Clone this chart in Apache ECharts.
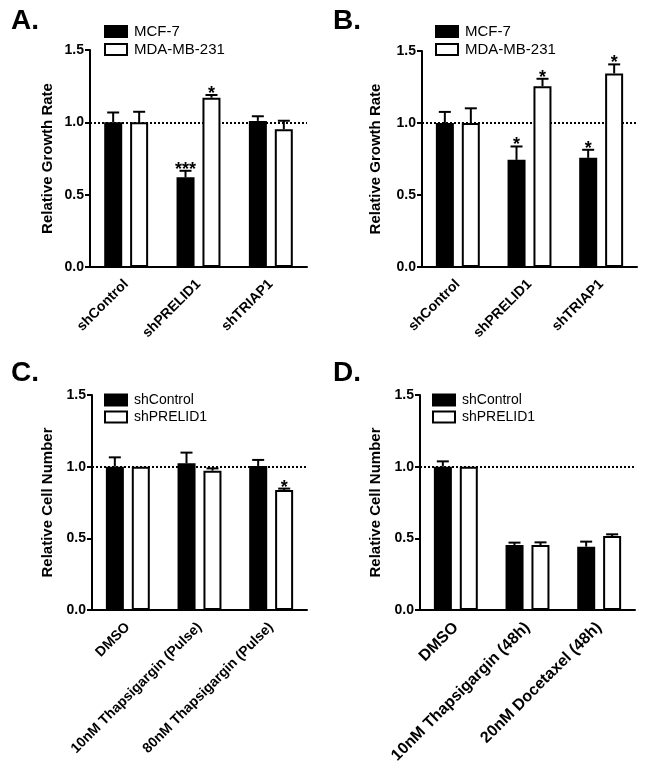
<!DOCTYPE html>
<html><head><meta charset="utf-8">
<script src="https://cdn.jsdelivr.net/npm/echarts@6/dist/echarts.min.js"></script>
<style>html,body{margin:0;padding:0;background:#fff}#c{width:647px;height:772px}</style>
</head><body><div id="c"></div>
<script>
// ---------- data ----------
const catsAB = ['shControl', 'shPRELID1', 'shTRIAP1'];
const catsC = ['DMSO', '10nM Thapsigargin (Pulse)', '80nM Thapsigargin (Pulse)'];
const catsD = ['DMSO', '10nM Thapsigargin (48h)', '20nM Docetaxel (48h)'];

const aMCF = [1.00, 0.62, 1.01];
const aMCFErr = [0.068, 0.045, 0.032];
const aMDA = [1.00, 1.17, 0.953];
const aMDAErr = [0.073, 0.019, 0.058];
const aStarsMCF = ['', '***', ''];
const aStarsMDA = ['', '*', ''];

const bMCF = [1.00, 0.744, 0.758];
const bMCFErr = [0.077, 0.093, 0.056];
const bMDA = [1.00, 1.256, 1.344];
const bMDAErr = [0.102, 0.051, 0.063];
const bStarsMCF = ['', '*', '*'];
const bStarsMDA = ['', '*', '*'];

const cCtrl = [1.00, 1.023, 1.005];
const cCtrlErr = [0.065, 0.075, 0.042];
const cPre = [1.00, 0.972, 0.837];
const cPreErr = [0, 0.016, 0.010];
const cStarsCtrl = ['', '', ''];
const cStarsPre = ['', '', '*'];

const dCtrl = [1.00, 0.453, 0.442];
const dCtrlErr = [0.037, 0.017, 0.035];
const dPre = [1.00, 0.453, 0.516];
const dPreErr = [0, 0.019, 0.012];
const dStarsCtrl = ['', '', ''];
const dStarsPre = ['', '', ''];

const yTickLabels = ['0.0', '0.5', '1.0', '1.5'];
const refLine = 1.0;

// ---------- chart ----------
const FONT = '"Liberation Sans", Arial, sans-serif';
const BAR_W = 18, BAR_OFF = 13;
const chart = echarts.init(document.getElementById('c'), null, {renderer: 'canvas'});

const grids = [
  {left: 90, top: 50, width: 217, height: 217, outerBoundsMode: 'none'},
  {left: 422, top: 51, width: 215, height: 216, outerBoundsMode: 'none'},
  {left: 92, top: 395, width: 215, height: 215, outerBoundsMode: 'none'},
  {left: 420, top: 395, width: 215, height: 215, outerBoundsMode: 'none'}
];

const lineBlack = {color: '#000', width: 2};
function xAx(g, cats, fs) {
  return {
    type: 'category', gridIndex: g, data: cats,
    axisLine: {lineStyle: lineBlack},
    axisTick: {alignWithLabel: true, length: 6, lineStyle: lineBlack},
    axisLabel: {rotate: 45, margin: 15, interval: 0, color: '#000',
      fontFamily: FONT, fontWeight: 'bold', fontSize: fs}
  };
}
function yAx(g, name, gap) {
  return {
    type: 'value', gridIndex: g, min: 0, max: 1.5, interval: 0.5,
    name: name, nameLocation: 'middle', nameGap: gap,
    nameTextStyle: {color: '#000', fontFamily: FONT, fontWeight: 'bold', fontSize: 15},
    axisLine: {show: true, lineStyle: lineBlack},
    axisTick: {show: true, length: 5, lineStyle: lineBlack},
    splitLine: {show: false},
    axisLabel: {margin: 6, color: '#000', fontFamily: FONT, fontWeight: 'bold', fontSize: 14,
      formatter: v => yTickLabels[Math.round(v / 0.5)]}
  };
}
function bar(g, name, vals, fill, withRef) {
  const s = {
    type: 'bar', name: name, xAxisIndex: g, yAxisIndex: g, data: vals,
    barWidth: BAR_W, barGap: '44%', z: 2, silent: true,
    itemStyle: {color: fill, borderColor: '#000', borderWidth: 2}
  };
  if (withRef) {
    s.markLine = {silent: true, z: 1, symbol: 'none', label: {show: false},
      lineStyle: {type: 'dotted', color: '#000', width: 2}, data: [{yAxis: refLine}]};
  }
  return s;
}
function err(g, vals, errs, stars, side) {
  return {
    type: 'custom', xAxisIndex: g, yAxisIndex: g, z: 5, silent: true,
    data: vals.map((v, i) => [i, v, v + errs[i]]),
    encode: {x: 0, y: [1, 2]},
    renderItem(params, api) {
      const i = api.value(0);
      const base = api.coord([i, api.value(1)]);
      const top = api.coord([i, api.value(2)]);
      const x = base[0] + side * BAR_OFF;
      const ch = [];
      if (api.value(2) > api.value(1)) {
        ch.push({type: 'line', shape: {x1: x, y1: base[1], x2: x, y2: top[1]}, style: {stroke: '#000', lineWidth: 2}});
        ch.push({type: 'line', shape: {x1: x - 6, y1: top[1], x2: x + 6, y2: top[1]}, style: {stroke: '#000', lineWidth: 2}});
      }
      const s = stars[params.dataIndex];
      if (s) {
        ch.push({type: 'text', x: x, y: top[1] + 8,
          style: {text: s, font: 'bold 18px ' + FONT, fill: '#000', align: 'center', verticalAlign: 'bottom'}});
      }
      return {type: 'group', children: ch};
    }
  };
}
function leg(left, top, names, fs) {
  return {left: left, top: top, padding: 0, orient: 'vertical', icon: 'rect', itemWidth: 22, itemHeight: 11,
    itemGap: 3, selectedMode: false,
    textStyle: {color: '#000', fontFamily: FONT, fontSize: fs, padding: [0, 0, 0, 2]}, data: names};
}
const titleStyle = {color: '#000', fontFamily: FONT, fontWeight: 'bold', fontSize: 28};

chart.setOption({
  animation: false,
  backgroundColor: '#fff',
  title: [
    {text: 'A.', left: 6, top: 2, textStyle: titleStyle},
    {text: 'B.', left: 328, top: 2, textStyle: titleStyle},
    {text: 'C.', left: 6, top: 354, textStyle: titleStyle},
    {text: 'D.', left: 328, top: 354, textStyle: titleStyle}
  ],
  legend: [
    leg(104, 24, ['MCF-7', 'MDA-MB-231'], 15),
    leg(435, 24, ['MCF-7', 'MDA-MB-231'], 15),
    leg(104, 393, ['shControl', 'shPRELID1'], 14),
    leg(432, 393, ['shControl', 'shPRELID1'], 14)
  ],
  grid: grids,
  xAxis: [xAx(0, catsAB, 14), xAx(1, catsAB, 14), xAx(2, catsC, 14), xAx(3, catsD, 16)],
  yAxis: [yAx(0, 'Relative Growth Rate', 35), yAx(1, 'Relative Growth Rate', 39),
          yAx(2, 'Relative Cell Number', 37), yAx(3, 'Relative Cell Number', 37)],
  series: [
    bar(0, 'MCF-7', aMCF, '#000', true), bar(0, 'MDA-MB-231', aMDA, '#fff'),
    err(0, aMCF, aMCFErr, aStarsMCF, -1), err(0, aMDA, aMDAErr, aStarsMDA, 1),
    bar(1, 'MCF-7', bMCF, '#000', true), bar(1, 'MDA-MB-231', bMDA, '#fff'),
    err(1, bMCF, bMCFErr, bStarsMCF, -1), err(1, bMDA, bMDAErr, bStarsMDA, 1),
    bar(2, 'shControl', cCtrl, '#000', true), bar(2, 'shPRELID1', cPre, '#fff'),
    err(2, cCtrl, cCtrlErr, cStarsCtrl, -1), err(2, cPre, cPreErr, cStarsPre, 1),
    bar(3, 'shControl', dCtrl, '#000', true), bar(3, 'shPRELID1', dPre, '#fff'),
    err(3, dCtrl, dCtrlErr, dStarsCtrl, -1), err(3, dPre, dPreErr, dStarsPre, 1)
  ]
});
</script></body></html>
